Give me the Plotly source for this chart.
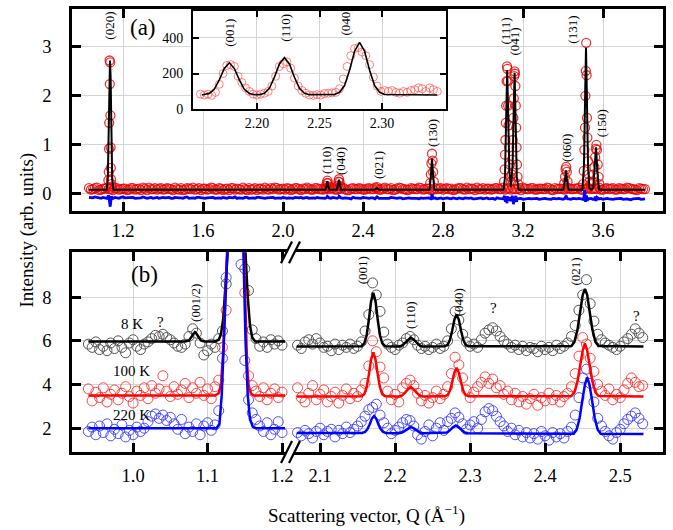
import plotly.graph_objects as go

SERIF = "Liberation Serif"

# ---------------- Panel (a): full pattern ----------------
qa_grid = [1.03,1.05,1.07,1.09,1.11,1.13,1.15,1.17,1.19,1.21,
           1.23,1.25,1.27,1.29,1.31,1.33,1.35,1.37,1.39,1.41,
           1.43,1.45,1.47,1.49,1.51,1.53,1.55,1.57,1.59,1.61,
           1.63,1.65,1.67,1.69,1.71,1.73,1.75,1.77,1.79,1.81,
           1.83,1.85,1.87,1.89,1.91,1.93,1.95,1.97,1.99,2.01,
           2.03,2.05,2.07,2.09,2.11,2.13,2.15,2.17,2.19,2.21,
           2.23,2.25,2.27,2.29,2.31,2.33,2.35,2.37,2.39,2.41,
           2.43,2.45,2.47,2.49,2.51,2.53,2.55,2.57,2.59,2.61,
           2.63,2.65,2.67,2.69,2.71,2.73,2.75,2.77,2.79,2.81,
           2.83,2.85,2.87,2.89,2.91,2.93,2.95,2.97,2.99,3.01,
           3.03,3.05,3.07,3.09,3.11,3.13,3.15,3.17,3.19,3.21,
           3.23,3.25,3.27,3.29,3.31,3.33,3.35,3.37,3.39,3.41,
           3.43,3.45,3.47,3.49,3.51,3.53,3.55,3.57,3.59,3.61,
           3.63,3.65,3.67,3.69,3.71,3.73,3.75,3.77,3.79,3.81]
ia_grid = [0.12,0.10,0.13,0.09,0.11,0.10,0.08,0.12,0.10,0.11,
           0.09,0.12,0.10,0.08,0.11,0.13,0.10,0.09,0.12,0.10,
           0.11,0.08,0.10,0.12,0.09,0.11,0.13,0.10,0.08,0.11,
           0.10,0.12,0.09,0.11,0.10,0.08,0.12,0.11,0.09,0.10,
           0.12,0.10,0.08,0.11,0.13,0.09,0.10,0.12,0.10,0.09,
           0.11,0.10,0.12,0.08,0.10,0.11,0.09,0.12,0.10,0.11,
           0.10,0.12,0.09,0.11,0.10,0.08,0.12,0.10,0.11,0.09,
           0.12,0.10,0.11,0.09,0.13,0.10,0.08,0.11,0.12,0.10,
           0.09,0.11,0.10,0.12,0.10,0.11,0.09,0.10,0.12,0.11,
           0.10,0.08,0.11,0.12,0.09,0.10,0.11,0.13,0.10,0.09,
           0.11,0.10,0.12,0.10,0.09,0.12,0.11,0.10,0.08,0.11,
           0.10,0.12,0.09,0.11,0.10,0.12,0.08,0.10,0.11,0.09,
           0.12,0.10,0.11,0.09,0.10,0.12,0.11,0.10,0.09,0.11,
           0.10,0.12,0.09,0.11,0.10,0.12,0.10,0.08,0.11,0.10]
qa_grid2 = [1.04,1.06,1.08,1.10,1.12,1.14,1.16,1.18,1.20,1.22,
            1.24,1.26,1.28,1.30,1.32,1.34,1.36,1.38,1.40,1.42,
            1.44,1.46,1.48,1.50,1.52,1.54,1.56,1.58,1.60,1.62,
            1.64,1.66,1.68,1.70,1.72,1.74,1.76,1.78,1.80,1.82,
            1.84,1.86,1.88,1.90,1.92,1.94,1.96,1.98,2.00,2.02,
            2.04,2.06,2.08,2.10,2.12,2.14,2.16,2.18,2.20,2.22,
            2.24,2.26,2.28,2.30,2.32,2.34,2.36,2.38,2.40,2.42,
            2.44,2.46,2.48,2.50,2.52,2.54,2.56,2.58,2.60,2.62,
            2.64,2.66,2.68,2.70,2.72,2.74,2.76,2.78,2.80,2.82,
            2.84,2.86,2.88,2.90,2.92,2.94,2.96,2.98,3.00,3.02,
            3.04,3.06,3.08,3.10,3.12,3.14,3.16,3.18,3.20,3.22,
            3.24,3.26,3.28,3.30,3.32,3.34,3.36,3.38,3.40,3.42,
            3.44,3.46,3.48,3.50,3.52,3.54,3.56,3.58,3.60,3.62,
            3.64,3.66,3.68,3.70,3.72,3.74,3.76,3.78,3.80]
ia_grid2 = [0.09,0.12,0.08,0.11,0.13,0.10,0.12,0.09,0.11,0.08,
            0.12,0.09,0.11,0.13,0.08,0.10,0.12,0.11,0.09,0.12,
            0.10,0.13,0.09,0.08,0.12,0.10,0.09,0.12,0.11,0.09,
            0.13,0.09,0.12,0.08,0.11,0.12,0.09,0.10,0.13,0.08,
            0.09,0.12,0.11,0.09,0.10,0.12,0.13,0.09,0.11,0.12,
            0.08,0.12,0.10,0.11,0.13,0.09,0.12,0.10,0.09,0.12,
            0.12,0.09,0.11,0.13,0.08,0.11,0.10,0.12,0.09,0.11,
            0.10,0.13,0.09,0.11,0.10,0.12,0.09,0.13,0.10,0.08,
            0.12,0.10,0.13,0.09,0.11,0.08,0.12,0.11,0.09,0.12,
            0.11,0.09,0.12,0.10,0.13,0.11,0.08,0.10,0.12,0.11,
            0.09,0.12,0.10,0.13,0.11,0.09,0.10,0.12,0.13,0.10,
            0.12,0.09,0.11,0.10,0.13,0.09,0.12,0.11,0.10,0.12,
            0.10,0.11,0.13,0.09,0.12,0.10,0.11,0.13,0.09,0.12,
            0.11,0.09,0.12,0.10,0.13,0.11,0.09,0.12,0.10]
# observed points on the Bragg peaks
qa_peak = [1.127,1.129,1.130,1.131,1.133,1.134,1.136,1.137,1.138,1.139,1.140,1.142,1.144,
           2.215,2.219,2.222,2.225,2.229,
           2.273,2.277,2.280,2.283,2.287,
           2.470,
           2.736,2.739,2.742,2.745,2.748,2.751,2.754,
           3.105,3.108,3.110,3.112,3.114,3.116,3.118,3.120,3.122,3.124,3.126,3.128,3.131,3.134,3.137,
           3.140,3.143,3.146,3.149,3.152,3.154,3.156,3.158,3.160,3.162,3.164,3.166,3.168,3.170,3.173,3.176,
           3.406,3.410,3.413,3.416,3.419,3.423,
           3.500,3.504,3.507,3.510,3.512,3.514,3.516,3.518,3.520,3.522,3.525,3.528,3.532,3.540,
           3.548,3.553,3.557,3.561,3.564,3.567,3.570,3.574,3.578,3.582]
ia_peak = [0.28,0.45,0.92,1.45,2.72,2.24,2.68,1.60,0.95,0.53,0.30,0.20,0.15,
           0.16,0.22,0.27,0.22,0.15,
           0.17,0.25,0.30,0.24,0.16,
           0.14,
           0.22,0.40,0.62,0.82,0.68,0.45,0.25,
           0.25,0.50,0.80,1.10,1.45,1.80,2.30,2.60,2.55,2.30,1.80,1.40,0.95,0.60,0.35,
           0.25,0.40,0.70,1.10,1.55,1.95,2.40,2.50,2.45,2.20,1.80,1.35,0.95,0.60,0.35,0.20,
           0.22,0.35,0.50,0.55,0.45,0.25,
           0.20,0.47,0.90,1.35,2.00,2.51,3.08,2.42,1.55,1.15,0.67,0.40,0.25,0.20,
           0.25,0.40,0.55,0.75,0.92,1.00,0.90,0.60,0.35,0.20]
# refined (calculated) pattern
qa_fit = [1.03,1.118,1.124,1.129,1.132,1.135,1.138,1.141,1.146,1.152,
          2.212,2.217,2.222,2.227,2.232,2.270,2.275,2.280,2.285,2.290,
          2.458,2.470,2.482,2.733,2.739,2.745,2.751,2.757,
          3.103,3.110,3.116,3.121,3.126,3.132,3.140,3.148,3.153,3.158,3.163,3.169,3.178,
          3.402,3.409,3.415,3.421,3.428,
          3.497,3.505,3.511,3.515,3.519,3.525,3.532,3.540,3.551,3.558,3.565,3.572,3.580,3.81]
ia_fit = [0.085,0.085,0.30,1.50,2.40,2.72,2.40,1.50,0.30,0.085,
          0.085,0.15,0.26,0.15,0.085,0.085,0.17,0.29,0.17,0.085,
          0.085,0.12,0.085,0.085,0.35,0.72,0.35,0.085,
          0.085,0.35,1.60,2.52,1.60,0.45,0.14,0.60,1.60,2.47,1.50,0.35,0.085,
          0.085,0.25,0.48,0.25,0.085,
          0.085,0.60,2.10,2.98,2.10,0.60,0.12,0.085,0.12,0.45,0.95,0.45,0.085,0.085]
# difference curve (obs - calc, shifted)
da_grid = [-0.07,-0.08,-0.07,-0.09,-0.08,-0.05,-0.09,-0.08,-0.07,-0.08,
           -0.08,-0.07,-0.09,-0.08,-0.07,-0.08,-0.09,-0.07,-0.08,-0.08,
           -0.07,-0.09,-0.08,-0.08,-0.07,-0.09,-0.08,-0.07,-0.08,-0.09,
           -0.08,-0.07,-0.08,-0.09,-0.08,-0.07,-0.08,-0.09,-0.08,-0.07,
           -0.09,-0.08,-0.07,-0.08,-0.09,-0.08,-0.07,-0.08,-0.09,-0.08,
           -0.08,-0.09,-0.08,-0.07,-0.08,-0.09,-0.08,-0.07,-0.08,-0.09,
           -0.08,-0.07,-0.09,-0.08,-0.08,-0.09,-0.07,-0.08,-0.09,-0.08,
           -0.09,-0.08,-0.07,-0.09,-0.08,-0.09,-0.08,-0.09,-0.08,-0.09,
           -0.08,-0.09,-0.09,-0.08,-0.09,-0.08,-0.09,-0.10,-0.08,-0.09,
           -0.09,-0.08,-0.10,-0.09,-0.08,-0.09,-0.10,-0.09,-0.08,-0.09,
           -0.10,-0.09,-0.08,-0.10,-0.09,-0.10,-0.09,-0.10,-0.09,-0.10,
           -0.09,-0.10,-0.09,-0.10,-0.09,-0.10,-0.09,-0.10,-0.10,-0.09,
           -0.10,-0.09,-0.10,-0.10,-0.09,-0.10,-0.11,-0.10,-0.09,-0.10,
           -0.10,-0.11,-0.10,-0.09,-0.10,-0.11,-0.10,-0.10,-0.11,-0.10]
da_grid2 = [-0.08,-0.06,-0.09,-0.07,-0.09,-0.08,-0.07,-0.09,-0.06,-0.08,
            -0.07,-0.09,-0.08,-0.06,-0.09,-0.07,-0.08,-0.09,-0.07,-0.08,
            -0.09,-0.07,-0.08,-0.09,-0.06,-0.08,-0.09,-0.07,-0.09,-0.08,
            -0.07,-0.09,-0.08,-0.07,-0.09,-0.08,-0.06,-0.08,-0.09,-0.07,
            -0.08,-0.09,-0.07,-0.09,-0.08,-0.07,-0.09,-0.08,-0.07,-0.09,
            -0.09,-0.07,-0.08,-0.09,-0.07,-0.08,-0.09,-0.08,-0.09,-0.07,
            -0.09,-0.08,-0.07,-0.09,-0.08,-0.10,-0.08,-0.09,-0.07,-0.09,
            -0.08,-0.10,-0.09,-0.08,-0.09,-0.07,-0.09,-0.08,-0.10,-0.08,
            -0.09,-0.08,-0.10,-0.09,-0.08,-0.10,-0.08,-0.09,-0.10,-0.08,
            -0.10,-0.09,-0.08,-0.10,-0.09,-0.08,-0.10,-0.09,-0.10,-0.08,
            -0.09,-0.11,-0.09,-0.10,-0.08,-0.11,-0.10,-0.09,-0.11,-0.09,
            -0.10,-0.09,-0.11,-0.09,-0.10,-0.11,-0.10,-0.09,-0.11,-0.10,
            -0.11,-0.10,-0.09,-0.11,-0.10,-0.09,-0.11,-0.10,-0.11,-0.09,
            -0.11,-0.10,-0.09,-0.11,-0.10,-0.12,-0.10,-0.09,-0.11]
qd_peak = [1.125,1.128,1.131,1.134,1.136,1.139,1.142,1.146,
           2.222,2.281,2.470,2.742,2.745,2.748,
           3.108,3.112,3.116,3.120,3.124,3.128,3.134,3.140,3.146,3.152,3.156,3.160,3.164,3.168,3.172,
           3.412,3.416,3.420,
           3.505,3.509,3.513,3.517,3.521,3.527,3.560,3.565,3.570]
dd_peak = [-0.06,-0.03,-0.10,-0.22,-0.26,-0.15,-0.05,-0.08,
           -0.05,-0.05,-0.06,-0.09,0.00,-0.09,
           -0.04,-0.16,-0.06,-0.19,-0.05,-0.14,-0.07,-0.15,-0.04,-0.21,-0.08,-0.17,-0.04,-0.16,-0.10,
           -0.07,-0.03,-0.11,
           -0.06,0.08,-0.16,-0.03,-0.14,-0.08,-0.05,-0.14,-0.07]

a_labels = ["(020)", "(110)", "(040)", "(021)", "(130)", "(111)", "(041)", "(060)", "(131)", "(150)"]
a_lab_q = [1.135, 2.215, 2.285, 2.475, 2.745, 3.115, 3.158, 3.418, 3.443, 3.590]
a_lab_y = [3.43, 0.69, 0.67, 0.59, 1.24, 3.31, 3.10, 0.93, 3.34, 1.44]

# ---------------- Inset ----------------
qi_obs = [2.155,2.158,2.161,2.164,2.167,2.170,2.173,2.176,2.179,2.182,2.185,2.188,2.191,2.194,2.197,2.200,
          2.203,2.206,2.209,2.212,2.215,2.218,2.221,2.224,2.227,2.230,2.233,2.236,2.239,2.242,2.245,2.248,
          2.251,2.254,2.257,2.260,2.263,2.266,2.269,2.272,2.275,2.278,2.281,2.284,2.287,2.290,2.293,2.296,
          2.299,2.302,2.305,2.308,2.311,2.314,2.317,2.320,2.323,2.326,2.329,2.332,2.335,2.338,2.341,2.344]
ii_obs = [85,80,85,78,95,140,200,245,250,240,185,150,120,100,85,80,
          85,90,100,130,185,240,255,265,230,175,130,105,90,80,78,82,
          80,88,90,92,95,115,170,240,300,340,345,320,300,250,180,130,
          100,105,100,105,95,90,100,95,105,110,120,115,100,120,110,100]
qi_fit = [2.156,2.158,2.162,2.166,2.170,2.174,2.178,2.182,2.186,2.190,2.194,2.198,
          2.202,2.206,2.210,2.214,2.218,2.222,2.226,2.230,2.234,2.238,2.242,
          2.262,2.266,2.270,2.274,2.278,2.282,2.286,2.290,2.294,2.298,2.302,2.344]
ii_fit = [80,82,89,112,165,229,260,229,165,112,89,82,
          82,90,118,179,254,290,254,179,118,90,82,
          83,95,133,219,325,375,325,219,133,95,83,80]
i_labels = ["(001)", "(110)", "(040)"]
i_lab_q = [2.178, 2.223, 2.271]
i_lab_y = [430, 455, 490]

# ---------------- Panel (b): low-Q detail at three temperatures ----------------
qb_left = [0.940,0.945,0.950,0.955,0.960,0.965,0.970,0.975,0.980,0.985,
           0.990,0.995,1.000,1.005,1.010,1.015,1.020,1.025,1.030,1.035,
           1.040,1.045,1.050,1.055,1.060,1.065,1.070,1.075,1.080,1.085,
           1.090,1.095,1.100,1.105,1.110,1.115,1.120,1.125,1.130,1.135,
           1.140,1.145,1.150,1.155,1.160,1.165,1.170,1.175,1.180,1.185,
           1.190,1.195,1.200]
i8_left = [5.85,5.70,5.95,5.60,5.75,5.55,5.90,5.65,6.00,5.70,
           5.45,5.90,6.05,5.75,5.60,5.85,5.95,6.10,6.25,6.20,
           6.30,6.15,6.05,5.90,5.75,5.70,5.85,6.20,6.55,6.35,
           5.90,5.35,5.55,5.85,5.70,6.10,6.45,8.60,11.0,13.0,
           12.0,10.5,9.30,8.30,6.50,6.10,5.75,5.95,5.70,6.05,
           5.85,6.00,5.80]
i100_left = [3.80,3.25,3.65,3.40,3.85,3.20,3.55,3.75,3.30,3.60,
             3.90,3.45,3.15,3.70,3.50,3.85,3.35,3.95,3.60,3.80,
             4.40,3.70,3.45,3.90,3.55,3.75,4.05,3.40,3.85,3.60,
             4.10,3.50,3.80,3.35,3.90,4.20,5.70,7.40,10.5,13.0,
             12.0,10.3,8.20,4.40,3.95,3.70,3.45,3.85,3.30,3.60,
             3.80,3.40,3.65]
i220_left = [1.85,2.05,1.70,2.10,1.80,2.20,1.65,1.95,1.75,2.15,
             1.60,1.90,1.70,2.05,1.85,2.00,2.30,2.55,2.65,2.45,
             2.60,2.35,2.50,2.20,1.95,2.40,1.75,2.05,1.85,2.20,
             1.70,2.10,2.25,1.90,2.15,2.80,5.20,8.90,11.5,13.0,
             12.5,9.50,5.10,3.30,2.70,2.40,2.10,1.85,2.25,1.70,
             1.95,2.30,1.80]

qb_right = [2.070,2.075,2.080,2.085,2.090,2.095,2.100,2.105,2.110,2.115,
            2.120,2.125,2.130,2.135,2.140,2.145,2.150,2.155,2.160,2.165,
            2.170,2.175,2.180,2.185,2.190,2.195,2.200,2.205,2.210,2.215,
            2.220,2.225,2.230,2.235,2.240,2.245,2.250,2.255,2.260,2.265,
            2.270,2.275,2.280,2.285,2.290,2.295,2.300,2.305,2.310,2.315,
            2.320,2.325,2.330,2.335,2.340,2.345,2.350,2.355,2.360,2.365,
            2.370,2.375,2.380,2.385,2.390,2.395,2.400,2.405,2.410,2.415,
            2.420,2.425,2.430,2.435,2.440,2.445,2.450,2.455,2.460,2.465,
            2.470,2.475,2.480,2.485,2.490,2.495,2.500,2.505,2.510,2.515,
            2.520,2.525,2.530]
i8_right = [5.80,5.65,5.95,6.05,5.85,6.10,5.90,5.70,5.75,5.55,
            5.85,5.60,5.80,5.70,5.85,5.65,5.75,5.95,6.45,7.20,
            8.65,8.10,7.35,6.40,5.85,5.70,5.60,5.80,5.90,6.10,
            6.20,6.05,5.80,5.65,5.75,5.60,5.70,5.85,5.65,5.75,
            6.00,6.55,7.35,6.95,6.30,5.95,5.75,5.85,5.70,6.05,
            6.35,6.50,6.60,6.45,6.20,6.00,5.85,5.70,5.80,5.60,
            5.75,5.55,5.70,5.65,5.50,5.75,5.60,5.70,5.55,5.80,
            5.65,5.75,5.90,6.20,6.70,7.40,8.10,8.80,7.70,6.90,
            6.30,6.05,5.90,5.80,5.70,5.60,5.75,5.95,6.10,6.30,
            6.55,6.35,6.15]
i100_right = [3.85,3.40,3.20,3.60,3.95,3.30,3.55,3.75,3.20,3.45,
              3.65,3.15,3.50,3.80,3.35,3.60,3.45,3.75,4.05,4.85,
              6.00,5.50,4.80,4.30,3.70,3.30,3.55,3.20,3.85,4.05,
              4.20,3.95,3.60,3.25,3.50,3.15,3.40,3.70,3.35,3.55,
              3.90,4.50,5.25,4.90,4.30,3.75,3.40,3.65,3.90,4.10,
              4.35,4.05,4.25,3.85,3.95,3.55,3.70,3.30,3.60,3.20,
              3.45,3.10,3.35,3.55,3.05,3.40,3.25,3.60,3.30,3.50,
              3.20,3.45,3.60,3.90,4.50,5.30,6.15,5.85,5.20,4.60,
              4.00,3.70,3.50,3.80,3.30,3.55,3.40,3.75,4.05,4.30,
              4.10,3.90,3.95]
i220_right = [1.80,1.65,1.90,1.75,1.55,1.85,2.00,1.70,1.85,1.95,
              1.60,1.90,1.75,2.05,1.80,1.95,2.10,2.30,2.55,2.85,
              2.95,3.10,2.60,2.25,2.00,1.75,1.90,2.05,2.25,2.40,
              2.35,2.10,1.70,1.50,1.85,2.15,1.65,2.00,2.25,1.90,
              2.30,2.45,2.70,2.50,2.20,1.95,2.15,2.30,2.00,2.40,
              2.75,2.90,2.80,2.55,2.30,2.10,1.85,2.00,1.70,1.90,
              1.60,1.80,1.55,1.75,1.50,1.85,1.65,1.45,1.80,1.60,
              1.75,1.55,1.85,2.05,2.60,3.40,4.30,4.70,4.05,3.20,
              2.45,2.10,1.85,1.65,1.50,1.80,1.95,2.20,2.40,2.55,
              2.70,2.45,2.20]

# fits, left segment
q8_fit_l = [0.940,1.070,1.075,1.078,1.081,1.083,1.085,1.088,1.091,1.096,1.110,1.115,
            1.118,1.121,1.124,1.127,1.133,1.144,1.151,1.154,1.157,1.160,1.164,1.204]
f8_fit_l = [5.97,5.97,6.02,6.15,6.33,6.40,6.33,6.15,6.02,5.97,5.97,6.05,
            6.30,7.00,8.30,10.0,16.0,16.0,10.0,8.0,6.7,6.15,5.97,5.97]
q100_fit_l = [0.940,1.110,1.115,1.118,1.121,1.124,1.127,1.133,1.144,1.149,1.151,1.153,1.155,1.158,1.162,1.204]
f100_fit_l = [3.50,3.50,3.60,4.00,5.50,7.50,10.0,16.0,16.0,10.0,7.0,5.0,4.0,3.6,3.5,3.5]
q220_fit_l = [0.940,1.112,1.116,1.119,1.122,1.125,1.133,1.144,1.148,1.151,1.154,1.157,1.161,1.165,1.204]
f220_fit_l = [2.00,2.00,2.20,3.50,6.00,10.0,16.0,16.0,10.0,6.0,3.5,2.4,2.05,2.0,2.0]

# fits, right segment
q_fit_r = [2.069,
           2.155,2.159,2.162,2.165,2.168,2.171,2.174,2.177,2.180,2.183,2.187,
           2.205,2.209,2.213,2.217,2.221,2.225,2.229,2.233,2.237,
           2.266,2.270,2.273,2.276,2.279,2.282,2.285,2.288,2.291,2.294,2.298,
           2.435,2.439,2.443,2.447,2.450,2.453,2.456,2.459,2.463,2.467,2.471,
           2.531]
f8_fit_r = [5.74,
            5.75,5.88,6.23,6.94,7.80,8.20,7.80,6.94,6.23,5.88,5.75,
            5.74,5.78,5.90,6.05,6.15,6.05,5.90,5.78,5.74,
            5.75,5.82,6.03,6.45,6.96,7.20,6.96,6.45,6.03,5.82,5.75,
            5.76,5.95,6.50,7.40,8.10,8.38,8.10,7.40,6.50,5.95,5.76,
            5.74]
f100_fit_r = [3.45,
              3.46,3.56,3.85,4.43,5.14,5.47,5.14,4.43,3.85,3.56,3.46,
              3.45,3.49,3.62,3.78,3.88,3.78,3.62,3.49,3.45,
              3.46,3.52,3.71,4.09,4.54,4.76,4.54,4.09,3.71,3.52,3.46,
              3.47,3.64,4.13,4.94,5.56,5.88,5.56,4.94,4.13,3.64,3.47,
              3.45]
q220_fit_r = [2.069,
              2.156,2.160,2.163,2.166,2.169,2.172,2.175,2.178,2.181,2.184,2.188,
              2.205,2.209,2.213,2.217,2.221,2.225,2.229,2.233,2.237,
              2.265,2.269,2.273,2.277,2.281,2.285,2.289,2.293,2.297,
              2.438,2.442,2.446,2.450,2.453,2.456,2.459,2.462,2.466,2.470,2.474,
              2.531]
f220_fit_r = [1.78,
              1.78,1.83,1.95,2.16,2.43,2.56,2.43,2.16,1.95,1.83,1.78,
              1.77,1.80,1.88,1.99,2.06,1.99,1.88,1.80,1.77,
              1.77,1.80,1.90,2.04,2.12,2.04,1.90,1.80,1.77,
              1.75,1.93,2.48,3.38,4.00,4.33,4.00,3.38,2.48,1.93,1.75,
              1.73]

bl_labels = ["(b)", "8 K", "?", "(001/2)", "100 K", "220 K"]
bl_q = [1.015, 0.998, 1.037, 1.083, 0.998, 0.998]
bl_y = [9.03, 6.79, 6.88, 7.73, 4.64, 2.59]
br_labels = ["(001)", "(110)", "(040)", "?", "(021)", "?"]
br_q = [2.156, 2.220, 2.284, 2.331, 2.440, 2.522]
br_y = [9.23, 7.18, 7.77, 7.51, 9.18, 7.14]

# ---------------- Figure ----------------
fig = go.Figure()

def circles(x, y, color, size, xa, ya, lw=1.0):
    fig.add_trace(go.Scatter(x=x, y=y, mode="markers", xaxis=xa, yaxis=ya,
                             marker=dict(symbol="circle-open", size=size, color=color,
                                         line=dict(width=lw, color=color)),
                             hoverinfo="skip"))

def curve(x, y, color, width, xa, ya):
    fig.add_trace(go.Scatter(x=x, y=y, mode="lines", xaxis=xa, yaxis=ya,
                             line=dict(color=color, width=width), hoverinfo="skip"))

# panel (a)
circles(qa_grid + qa_grid2 + qa_peak, ia_grid + ia_grid2 + ia_peak, "rgba(235,0,0,0.8)", 9, "x", "y", 1.3)
curve(qa_fit, ia_fit, "black", 2, "x", "y")
diff_sorted = sorted(zip(qa_grid + qa_grid2 + qd_peak, da_grid + da_grid2 + dd_peak))
curve([p[0] for p in diff_sorted], [p[1] for p in diff_sorted], "#0000ff", 2.8, "x", "y")

# inset
circles(qi_obs, ii_obs, "rgba(255,90,90,0.75)", 8, "x4", "y4", 1)
curve(qi_fit, ii_fit, "black", 1.6, "x4", "y4")

# panel (b)
circles(qb_left, i8_left, "#555555", 10, "x2", "y2")
circles(qb_left, i100_left, "rgba(255,40,40,0.85)", 10, "x2", "y2")
circles(qb_left, i220_left, "rgba(50,50,255,0.85)", 10, "x2", "y2")
curve(q8_fit_l, f8_fit_l, "black", 2.5, "x2", "y2")
curve(q100_fit_l, f100_fit_l, "#ff0000", 2.5, "x2", "y2")
curve(q220_fit_l, f220_fit_l, "#0000ff", 2.5, "x2", "y2")

circles(qb_right, i8_right, "#555555", 10, "x3", "y3")
circles(qb_right, i100_right, "rgba(255,40,40,0.85)", 10, "x3", "y3")
circles(qb_right, i220_right, "rgba(50,50,255,0.85)", 10, "x3", "y3")
curve(q_fit_r, f8_fit_r, "black", 2.5, "x3", "y3")
curve(q_fit_r, f100_fit_r, "#ff0000", 2.5, "x3", "y3")
curve(q220_fit_r, f220_fit_r, "#0000ff", 2.5, "x3", "y3")


def ax(**kw):
    base = dict(showgrid=True, gridcolor="#d4d4d4", gridwidth=1, zeroline=False,
                ticks="inside", ticklen=9, tickwidth=2.5, tickcolor="black",
                showline=True, linecolor="black", linewidth=2.5,
                tickmode="array", ticklabelstandoff=6,
                tickfont=dict(family=SERIF, size=18.5, color="black"))
    base.update(kw)
    return base

W, H = 673, 530
L, R, T, B = 72, 10, 6, 78
PW, PH = W - L - R, H - T - B

def px_x(px):
    return (px - L) / PW

def px_y(py):
    return (H - B - py) / PH

dB = px_x(290)
dA0 = px_y(209)
dBtop = px_y(251)

a_ticks = [1.2, 1.6, 2.0, 2.4, 2.8, 3.2, 3.6]
b_lticks = [1.0, 1.1, 1.2]
b_rticks = [2.1, 2.2, 2.3, 2.4, 2.5]
i_ticks = [2.20, 2.25, 2.30]
ifont = dict(family=SERIF, size=14, color="black")

layout = dict(
    width=W, height=H, margin=dict(l=L, r=R, t=T, b=B),
    paper_bgcolor="white", plot_bgcolor="white", showlegend=False,
    xaxis=ax(domain=[0, 1], anchor="y", range=[0.945, 3.9], tickvals=a_ticks,
             ticktext=["%.1f" % v for v in a_ticks], mirror="ticks", ticklabelstandoff=1),
    yaxis=ax(domain=[dA0, 1], anchor="x", range=[-0.34, 3.77], tickvals=[0, 1, 2, 3],
             mirror="ticks", ticklabelstandoff=14),
    xaxis2=ax(domain=[0, dB], anchor="y2", range=[0.918, 1.2107], tickvals=b_lticks,
              ticktext=["%.1f" % v for v in b_lticks], mirror="ticks", ticklabelstandoff=5),
    yaxis2=ax(domain=[0, dBtop], anchor="x2", range=[0.91, 10.05], tickvals=[2, 4, 6, 8],
              mirror=False, ticklabelstandoff=14),
    xaxis3=ax(domain=[dB, 1], anchor="y3", range=[2.06, 2.557], tickvals=b_rticks,
              ticktext=["%.1f" % v for v in b_rticks], mirror="ticks", ticklabelstandoff=5),
    yaxis3=ax(domain=[0, dBtop], anchor="x3", range=[0.91, 10.05], tickvals=[2, 4, 6, 8],
              side="right", showticklabels=False, mirror=False),
    xaxis4=ax(domain=[px_x(193), px_x(446)], anchor="y4", range=[2.149, 2.351], tickvals=i_ticks,
              ticktext=["%.2f" % v for v in i_ticks], mirror="ticks", linewidth=1.8,
              tickwidth=1.8, ticklen=6, ticklabelstandoff=0, tickfont=ifont),
    yaxis4=ax(domain=[px_y(107), px_y(8)], anchor="x4", range=[0, 550], tickvals=[0, 200, 400],
              mirror="ticks", linewidth=1.8, tickwidth=1.8, ticklen=6, ticklabelstandoff=5,
              tickfont=ifont),
)

ann = []
def label(text, x, y, xref, yref, size, angle=0):
    ann.append(dict(text=text, x=x, y=y, xref=xref, yref=yref, showarrow=False,
                    textangle=angle, xanchor="center", yanchor="middle",
                    font=dict(family=SERIF, size=size, color="#000000")))

for t, q, v in zip(a_labels, a_lab_q, a_lab_y):
    label(t, q, v, "x", "y", 13, -90)
label("(a)", 1.30, 3.39, "x", "y", 23)
for t, q, v in zip(i_labels, i_lab_q, i_lab_y):
    label(t, q, v, "x4", "y4", 13, -90)
for t, q, v in zip(bl_labels, bl_q, bl_y):
    if t == "(b)":
        label(t, q, v, "x2", "y2", 23)
    elif t.startswith("("):
        label(t, q, v, "x2", "y2", 13, -90)
    else:
        label(t, q, v, "x2", "y2", 15)
for t, q, v in zip(br_labels, br_q, br_y):
    if t.startswith("("):
        label(t, q, v, "x3", "y3", 13, -90)
    else:
        label(t, q, v, "x3", "y3", 15)

label("Intensity (arb. units)", px_x(27), px_y(228), "paper", "paper", 19, -90)
label("Scattering vector, Q (Å<sup>−1</sup>)", px_x(366), px_y(515), "paper", "paper", 19)
layout["annotations"] = ann

# axis-break marks on panel (b)
shapes = []
for yc in (452, 251):
    x1, x2, x3, x4 = px_x(281), px_x(292), px_x(289), px_x(300)
    yb, yt = px_y(yc + 11), px_y(yc - 11)
    shapes.append(dict(type="path", xref="paper", yref="paper", layer="above",
                       path="M %f,%f L %f,%f L %f,%f L %f,%f Z" % (x1, yb, x2, yt, x4, yt, x3, yb),
                       fillcolor="white", line=dict(width=0)))
    shapes.append(dict(type="line", xref="paper", yref="paper", layer="above",
                       x0=x1, y0=yb, x1=x2, y1=yt, line=dict(color="black", width=2.2)))
    shapes.append(dict(type="line", xref="paper", yref="paper", layer="above",
                       x0=x3, y0=yb, x1=x4, y1=yt, line=dict(color="black", width=2.2)))
layout["shapes"] = shapes

fig.update_layout(**layout)
fig.write_html("out.html")
